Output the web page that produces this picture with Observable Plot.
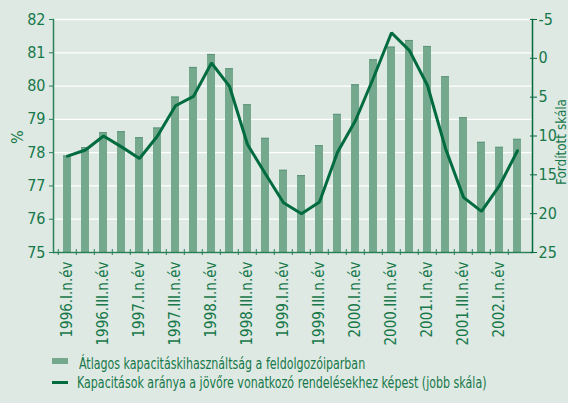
<!DOCTYPE html>
<html><head><meta charset="utf-8">
<script src="https://cdn.jsdelivr.net/npm/d3@7"></script>
<script src="https://cdn.jsdelivr.net/npm/@observablehq/plot@0.6"></script>
<style>
html,body{margin:0;padding:0;background:#dee9e3;}
#chart{width:568px;height:403px;position:relative;overflow:hidden;font-family:"DejaVu Sans Condensed","Liberation Sans",sans-serif;color:#17784a;}
#chart svg{display:block;}
.leg{position:absolute;left:0;font-size:15px;line-height:18px;white-space:nowrap;transform:scaleX(0.82);transform-origin:0 50%;}
.sw{position:absolute;}
</style></head>
<body><div id="chart"></div>
<script>
const quarters = ["1996Q1","1996Q2","1996Q3","1996Q4","1997Q1","1997Q2","1997Q3","1997Q4",
  "1998Q1","1998Q2","1998Q3","1998Q4","1999Q1","1999Q2","1999Q3","1999Q4",
  "2000Q1","2000Q2","2000Q3","2000Q4","2001Q1","2001Q2","2001Q3","2001Q4","2002Q1","2002Q2"];
const utilization = [77.9,78.15,78.6,78.63,78.45,78.74,79.67,80.56,80.95,80.52,79.44,78.43,77.47,77.31,78.21,79.15,80.04,80.79,81.17,81.37,81.19,80.28,79.05,78.31,78.16,78.4];
const orderRatio = [12.6,11.8,10.0,11.4,12.9,10.0,6.1,4.9,0.6,3.6,11.1,14.9,18.6,20.0,18.5,12.1,8.0,2.5,-3.3,-1.0,3.5,11.6,17.9,19.7,16.4,11.9];
const labelQuarters = ["1996Q1","1996Q3","1997Q1","1997Q3","1998Q1","1998Q3","1999Q1","1999Q3","2000Q1","2000Q3","2001Q1","2001Q3","2002Q1"];
const tickLabels = ["1996.I.n.év","1996.III.n.év","1997.I.n.év","1997.III.n.év","1998.I.n.év","1998.III.n.év","1999.I.n.év","1999.III.n.év","2000.I.n.év","2000.III.n.év","2001.I.n.év","2001.III.n.év","2002.I.n.év"];
const leftTicks = [75,76,77,78,79,80,81,82];
const rightTicks = [-5,0,5,10,15,20,25];
const leftDomain = [75,82];
const rightDomain = [-5,25];
const seriesNames = ["Átlagos kapacitáskihasználtság a feldolgozóiparban","Kapacitások aránya a jövőre vonatkozó rendelésekhez képest (jobb skála)"];
const leftLabel = "%";
const rightLabel = "Fordított skála";

const rows = quarters.map((q,i)=>({q, u: utilization[i], r: orderRatio[i]}));
// right (reversed) scale mapped onto the left scale's domain
const toLeft = v => leftDomain[1] - (v - rightDomain[0]) * (leftDomain[1]-leftDomain[0])/(rightDomain[1]-rightDomain[0]);
const fromLeft = y => String(Math.round(rightDomain[0] + (leftDomain[1]-y) * (rightDomain[1]-rightDomain[0])/(leftDomain[1]-leftDomain[0])));
const labelMap = new Map(labelQuarters.map((q,i)=>[q,tickLabels[i]]));

const W=568,H=345,ML=53,MR=36,MT=19,MB=93;
const step = (W-ML-MR)/quarters.length;
const green="#17784a", axisGreen="#2a8058", barFill="#74a98e", lineCol="#006b3e";
const font='"DejaVu Sans Condensed","Liberation Sans",sans-serif';

const plot = Plot.plot({
  width:W, height:H, marginLeft:ML, marginRight:MR, marginTop:MT, marginBottom:MB,
  style:{background:"transparent", fontFamily:font, fontSize:"15px", color:green, overflow:"visible"},
  x:{type:"band", domain:quarters, paddingInner:0.55, paddingOuter:0.275, axis:null},
  y:{domain:leftDomain, axis:null},
  marks:[
    Plot.gridY(leftTicks, {stroke:"#ffffff", strokeOpacity:1, strokeWidth:1.3}),
    Plot.barY(rows, {x:"q", y1:leftDomain[0], y2:"u", fill:barFill}),
    Plot.tickY(rows, {x:"q", y:"u", stroke:"#5b957a", strokeWidth:1}),
    Plot.line(rows, {x:"q", y:d=>toLeft(d.r), stroke:lineCol, strokeWidth:3, strokeLinejoin:"miter"}),
    Plot.ruleY([leftDomain[0]], {stroke:axisGreen, strokeWidth:1.5}),
    Plot.frame({anchor:"left", stroke:axisGreen, strokeWidth:1.5}),
    Plot.frame({anchor:"right", stroke:lineCol, strokeWidth:1.5}),
    Plot.axisY({ticks:leftTicks, tickFormat:d=>String(d), anchor:"left", tickSize:4, tickPadding:4, stroke:axisGreen, fill:green, fontSize:16, label:null}),
    Plot.axisY({ticks:rightTicks.map(toLeft), tickFormat:fromLeft, anchor:"right", tickSize:7, dx:-3, tickPadding:2, stroke:lineCol, fill:green, fontSize:16, label:null}),
    Plot.axisX({ticks:quarters, tickFormat:()=>"", anchor:"bottom", tickSize:6, dy:-3, dx:-step/2, stroke:axisGreen, label:null}),
    Plot.axisX({ticks:labelQuarters, tickFormat:q=>labelMap.get(q), anchor:"bottom", tickSize:0, tickPadding:9, tickRotate:-90, fill:green, fontSize:15, label:null}),
    Plot.text([leftLabel], {frameAnchor:"left", dx:-36, dy:8, rotate:-90, fill:green, fontSize:16}),
    Plot.text([rightLabel], {frameAnchor:"right", dx:29, dy:49, rotate:-90, fill:green, fontSize:14, textAnchor:"start", className:"rlabel"})
  ]
});
const chart = document.getElementById("chart");
chart.appendChild(plot);
// condense the right-hand label to the reference's narrow type
plot.querySelectorAll(".rlabel text").forEach(t=>{t.setAttribute("textLength","86");t.setAttribute("lengthAdjust","spacingAndGlyphs");});

const leg1 = document.createElement("div");
leg1.className="leg"; leg1.style.top="355px"; leg1.style.left="79px"; leg1.textContent=seriesNames[0];
const sw1 = document.createElement("div");
sw1.className="sw"; Object.assign(sw1.style,{left:"52px",top:"358px",width:"16px",height:"6px",background:barFill});
const leg2 = document.createElement("div");
leg2.className="leg"; leg2.style.top="374px"; leg2.style.left="77px"; leg2.textContent=seriesNames[1];
const sw2 = document.createElement("div");
sw2.className="sw"; Object.assign(sw2.style,{left:"52px",top:"381px",width:"16px",height:"3px",background:lineCol});
chart.append(sw1,leg1,sw2,leg2);
</script>
</body></html>
